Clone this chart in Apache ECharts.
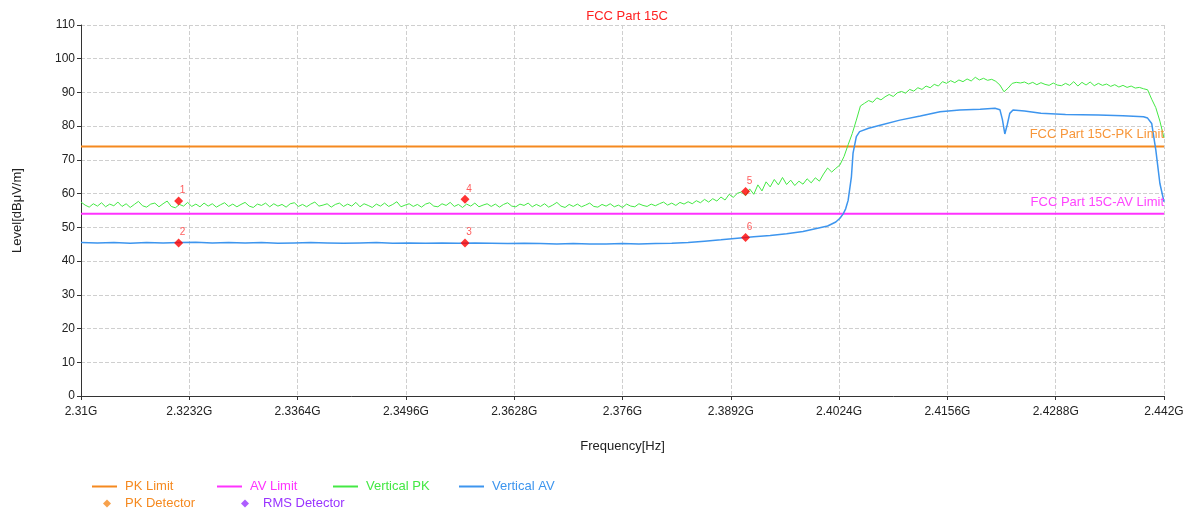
<!DOCTYPE html>
<html>
<head>
<meta charset="utf-8">
<script src="https://cdn.jsdelivr.net/npm/echarts@6.0.0/dist/echarts.min.js"></script>
<style>
  html, body { margin: 0; padding: 0; background: #fff; }
  #chart { width: 1197px; height: 512px; }
</style>
</head>
<body>
<div id="chart"></div>
<script>
// frequency in MHz, levels in dBuV/m
const freqStart = 2310;
const freqStop = 2442;
const freqTicks = 13.2;

const limitFreq = [2310, 2442];
const pkLimitLevel = [74, 74];
const avLimitLevel = [54, 54];

// Vertical PK trace, uniform sweep from freqStart to freqStop
const pkLevel = [
  57.5, 56.6, 56.0, 57.0, 56.3, 57.3, 56.1, 56.9, 56.4, 57.5,
  56.2, 57.0, 55.9, 56.8, 57.7, 56.4, 56.0, 56.9, 57.2, 56.1,
  57.0, 57.8, 56.2, 55.8, 56.8, 56.3, 57.4, 56.2, 56.9, 56.1,
  57.2, 56.3, 57.0, 56.0, 56.7, 57.3, 56.2, 56.9, 56.1, 56.8,
  57.4, 56.3, 55.9, 56.9, 56.5, 57.2, 56.1, 57.0, 56.3, 56.8,
  56.0, 57.0, 57.3, 56.2, 56.8, 56.1, 56.9, 57.5, 56.3, 56.6,
  57.0, 56.0, 56.8, 57.2, 56.2, 56.9, 56.3, 57.4, 56.1, 57.0,
  56.5, 55.9, 56.9, 56.3, 57.2, 56.2, 56.8, 57.6, 56.1, 56.6,
  57.0, 56.2, 56.8, 56.0, 56.9, 57.3, 56.3, 56.1, 57.0, 56.5,
  57.4, 56.2, 56.8, 55.9, 56.9, 56.3, 57.2, 56.1, 56.6, 57.0,
  56.2, 56.9, 56.0, 56.8, 57.3, 56.3, 56.1, 56.9, 56.5, 57.2,
  56.1, 56.8, 56.2, 57.0, 56.0, 56.6, 57.4, 56.3, 55.9, 56.8,
  56.2, 56.9, 56.1, 56.6, 57.2, 56.2, 56.0, 56.8, 56.3, 57.0,
  56.1, 56.6, 55.9, 56.9, 56.3, 56.1, 57.0, 56.5, 56.2, 56.9,
  56.4, 57.0, 57.5, 56.6, 57.2, 56.5, 57.4,
  56.9, 57.6, 57.0, 57.9, 57.3, 58.3, 57.5, 58.5, 57.8, 59.0, 58.1, 59.8, 58.9, 60.1,
  60.5, 59.4, 61.4, 59.8, 62.6, 60.8, 63.5, 62.0, 64.2, 62.6,
  64.8, 62.7, 64.0, 62.4, 63.7, 62.8, 64.4, 63.2, 64.7, 63.7,
  65.8, 67.6, 66.4, 67.5, 68.5, 71.0, 74.5, 77.8, 81.8, 86.0,
  86.8, 87.6, 87.1, 88.4, 87.8, 88.7, 89.4, 88.8, 89.9, 90.3,
  89.8, 90.9, 90.4, 91.4, 90.9, 91.9, 91.4, 92.4, 91.9, 93.2,
  92.7, 93.5, 92.9, 93.7, 93.2, 94.0, 93.4, 94.5, 93.7, 94.2,
  93.6, 93.9, 93.3, 92.2, 90.2, 91.3, 92.7, 93.0, 92.8, 93.1,
  92.5, 93.0, 92.3, 92.9, 92.4, 92.1, 92.8, 92.2, 92.0, 92.7,
  92.1, 93.2, 91.9, 93.0, 92.2, 93.1, 92.0, 92.7, 92.1, 92.5,
  91.8, 92.3, 91.6, 92.1, 91.5, 91.9, 91.3, 91.5, 91.1, 90.8,
  88.0, 85.5, 81.5, 76.5
];

// Vertical AV trace
const avFreq = [
  2310, 2312, 2314, 2316, 2318, 2320, 2322, 2324, 2326, 2328,
  2330, 2332, 2334, 2336, 2338, 2340, 2342, 2344, 2346, 2348,
  2350, 2352, 2354, 2356, 2358, 2360, 2362, 2364, 2366, 2368,
  2370, 2372, 2374, 2376, 2378, 2380, 2382, 2384, 2386, 2388,
  2390, 2392, 2394, 2396, 2398, 2399.5, 2401, 2402, 2402.5, 2402.9,
  2403.2, 2403.5, 2403.9, 2404.1, 2404.5, 2404.9, 2406, 2407.4, 2409.8, 2412.3,
  2414.7, 2417.1, 2419.6, 2421.4, 2422, 2422.3, 2422.6, 2422.9, 2423.2, 2423.6,
  2425, 2427, 2430, 2434, 2437, 2439.5, 2440, 2440.5, 2441, 2441.5, 2442
];
const avLevel = [
  45.5, 45.4, 45.5, 45.3, 45.5, 45.4, 45.5, 45.6, 45.4, 45.5,
  45.4, 45.5, 45.3, 45.4, 45.5, 45.4, 45.3, 45.4, 45.5, 45.3,
  45.4, 45.3, 45.4, 45.3, 45.4, 45.3, 45.2, 45.3, 45.2, 45.1,
  45.2, 45.1, 45.1, 45.2, 45.1, 45.2, 45.3, 45.5, 45.9, 46.3,
  46.8, 47.2, 47.6, 48.1, 48.8, 49.6, 50.4, 51.6, 52.7, 54.0,
  55.5, 58.0, 65.0, 72.0, 76.9, 78.4, 79.4, 80.3, 81.8, 83.0,
  84.3, 84.8, 85.0, 85.3, 84.9, 82.0, 77.7, 80.5, 83.8, 84.8,
  84.5, 83.8, 83.5, 83.3, 83.1, 82.8, 82.4, 80.8, 73.0, 63.0, 57.6
];

// marker table
const markerNo = ['1', '2', '3', '4', '5', '6'];
const markerFreq = [2321.9, 2321.9, 2356.8, 2356.8, 2391.0, 2391.0];
const markerLevel = [57.8, 45.4, 45.4, 58.3, 60.6, 47.0];

const FONT = "'Liberation Sans', Arial, sans-serif";
const cOrange = '#f5891f';
const cMagenta = '#ff33ff';
const cGreen = '#44e844';
const cBlue = '#3d95ee';
const cPurple = '#9933ff';

let chart = echarts.init(document.getElementById('chart'));

const pkStep = (freqStop - freqStart) / (pkLevel.length - 1);
const pkData = pkLevel.map((v, i) => [freqStart + i * pkStep, v]);
const avData = avFreq.map((f, i) => [f, avLevel[i]]);
const markerData = markerFreq.map((f, i) => ({value: [f, markerLevel[i]], name: markerNo[i]}));

function legendItem(name, color, left, top, icon) {
  let isLine = icon === 'rect';
  return {
    data: [{name: name, textStyle: {color: color}}],
    left: left,
    top: top,
    padding: 0,
    icon: icon,
    itemWidth: isLine ? 25 : 8,
    itemHeight: isLine ? 2 : 8,
    textStyle: {fontFamily: FONT, fontSize: 13, padding: [0, 0, 0, isLine ? 3 : 9]}
  };
}

function limitLabel(text, color) {
  return {
    silent: true,
    symbol: 'none',
    lineStyle: {color: 'rgba(0,0,0,0)', width: 0},
    label: {
      show: true,
      position: 'insideEndTop',
      distance: [0, 5],
      formatter: text,
      color: color,
      fontSize: 13,
      fontFamily: FONT
    }
  };
}

let option = {
  animation: false,
  textStyle: {fontFamily: FONT},
  title: {
    text: 'FCC Part 15C',
    left: 622,
    textAlign: 'center',
    top: 5,
    textStyle: {color: '#ff2020', fontSize: 13, fontWeight: 'normal', fontFamily: FONT}
  },
  legend: [
    legendItem('PK Limit', cOrange, 92, 480, 'rect'),
    legendItem('AV Limit', cMagenta, 217, 480, 'rect'),
    legendItem('Vertical PK', cGreen, 333, 480, 'rect'),
    legendItem('Vertical AV', cBlue, 459, 480, 'rect'),
    legendItem('PK Detector', cOrange, 103, 497, 'diamond'),
    legendItem('RMS Detector', cPurple, 241, 497, 'diamond')
  ],
  grid: {left: 81, right: 33, top: 25, bottom: 116},
  xAxis: {
    type: 'value',
    min: freqStart,
    max: freqStop,
    interval: freqTicks,
    name: 'Frequency[Hz]',
    nameLocation: 'middle',
    nameGap: 44,
    nameTextStyle: {color: '#222', fontSize: 13, fontFamily: FONT},
    axisLine: {lineStyle: {color: '#333'}},
    axisTick: {length: 4, lineStyle: {color: '#333'}},
    axisLabel: {
      color: '#222', fontSize: 12, margin: 10,
      formatter: function (v) {
        return (v / 1000).toFixed(4).replace(/0+$/, '').replace(/\.$/, '') + 'G';
      }
    },
    splitLine: {show: true, lineStyle: {color: '#cfcfcf', type: 'dashed'}}
  },
  yAxis: {
    type: 'value',
    min: 0,
    max: 110,
    interval: 10,
    name: 'Level[dBμV/m]',
    nameLocation: 'middle',
    nameGap: 57,
    nameTextStyle: {color: '#222', fontSize: 13, fontFamily: FONT},
    axisLine: {show: true, lineStyle: {color: '#333'}},
    axisTick: {show: true, length: 4, lineStyle: {color: '#333'}},
    axisLabel: {color: '#222', fontSize: 12, margin: 6},
    splitLine: {show: true, lineStyle: {color: '#cfcfcf', type: 'dashed'}}
  },
  series: [
    {
      name: 'PK Limit',
      type: 'line',
      symbol: 'none',
      data: limitFreq.map((f, i) => [f, pkLimitLevel[i]]),
      lineStyle: {color: cOrange, width: 2},
      itemStyle: {color: cOrange},
      z: 3,
      markLine: Object.assign(limitLabel('FCC Part 15C-PK Limit', '#f7963a'), {data: [{yAxis: pkLimitLevel[1]}]})
    },
    {
      name: 'AV Limit',
      type: 'line',
      symbol: 'none',
      data: limitFreq.map((f, i) => [f, avLimitLevel[i]]),
      lineStyle: {color: cMagenta, width: 2},
      itemStyle: {color: cMagenta},
      z: 3,
      markLine: Object.assign(limitLabel('FCC Part 15C-AV Limit', '#ff44ff'), {data: [{yAxis: avLimitLevel[1]}]})
    },
    {
      name: 'Vertical PK',
      type: 'line',
      symbol: 'none',
      data: pkData,
      lineStyle: {color: cGreen, width: 1},
      itemStyle: {color: cGreen},
      z: 4
    },
    {
      name: 'Vertical AV',
      type: 'line',
      symbol: 'none',
      data: avData,
      lineStyle: {color: cBlue, width: 1.5},
      itemStyle: {color: cBlue},
      z: 4
    },
    {
      name: 'PK Detector',
      type: 'scatter',
      symbol: 'diamond',
      itemStyle: {color: cOrange},
      data: []
    },
    {
      name: 'RMS Detector',
      type: 'scatter',
      symbol: 'diamond',
      itemStyle: {color: cPurple},
      data: []
    },
    {
      name: 'Markers',
      type: 'scatter',
      symbol: 'diamond',
      symbolSize: 9,
      itemStyle: {color: '#ff0000'},
      z: 6,
      label: {
        show: true,
        position: 'top',
        distance: 1,
        offset: [4, 0],
        formatter: '{b}',
        color: '#ff3333',
        fontSize: 10,
        fontFamily: FONT
      },
      data: markerData
    }
  ]
};
chart.setOption(option);
</script>
</body>
</html>
